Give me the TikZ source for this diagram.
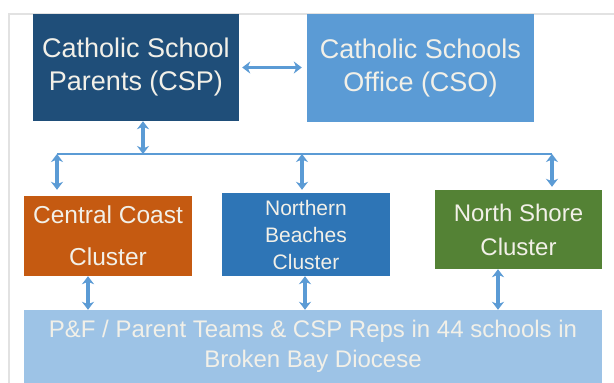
\documentclass[tikz,border=0pt]{standalone}
\usepackage{fontspec}
\setmainfont{Liberation Sans}
\usetikzlibrary{arrows.meta}
\definecolor{cspnavy}{HTML}{1F4E79}
\definecolor{csoblue}{HTML}{5B9BD5}
\definecolor{ccorange}{HTML}{C55A11}
\definecolor{nbblue}{HTML}{2E75B6}
\definecolor{nsgreen}{HTML}{548235}
\definecolor{pflight}{HTML}{9DC3E6}
\definecolor{arrowblue}{HTML}{5B9BD5}
\definecolor{framegray}{HTML}{E2E2E2}
\definecolor{boxtext}{HTML}{F2F0E8}
\begin{document}
\begin{tikzpicture}[x=1pt,y=-1pt,
  box/.style={rectangle, inner sep=0pt, align=center, text=boxtext},
  dbl/.style={draw=arrowblue, line width=3.2pt,
    {Stealth[length=8pt,width=12pt,inset=2.5pt]}-{Stealth[length=8pt,width=12pt,inset=2.5pt]}},
  busline/.style={draw=arrowblue, line width=2.5pt},
]
\useasboundingbox (0,0) rectangle (614,383);
\fill[white] (0,0) rectangle (614,383);
\draw[framegray, line width=1.2pt] (9,383) -- (9,14) -- (614,14);

\node[box, fill=cspnavy, minimum width=206pt, minimum height=107pt,
  font=\fontsize{27}{33}\selectfont] (csp) at (136,67.5) {Catholic School\\Parents (CSP)};
\node[box, fill=csoblue, minimum width=227pt, minimum height=108pt,
  font=\fontsize{27}{33}\selectfont] (cso) at (420.5,68) {Catholic Schools\\Office (CSO)};

\node[box, fill=ccorange, minimum width=168pt, minimum height=80pt,
  font=\fontsize{24.5}{42}\selectfont] (cc) at (108,236) {Central Coast\\Cluster};
\node[box, fill=nbblue, minimum width=168pt, minimum height=83pt,
  font=\fontsize{21}{27}\selectfont] (nb) at (306,234.5) {Northern\\Beaches\\Cluster};
\node[box, fill=nsgreen, minimum width=167pt, minimum height=79pt,
  font=\fontsize{24}{34}\selectfont] (ns) at (518.5,229.5) {North Shore\\Cluster};

\node[box, fill=pflight, minimum width=578pt, minimum height=73pt,
  font=\fontsize{24}{30}\selectfont] (pf) at (313,346.5)
  {P\&F / Parent Teams \& CSP Reps in 44 schools in\\Broken Bay Diocese};

\coordinate (busL) at (57,154);
\coordinate (busM) at (302,154);
\coordinate (busR) at (552,154);

\draw[dbl] ([xshift=3pt]csp.east) -- ([xshift=-5pt]csp.east -| cso.west);
\draw[busline] (busL) -- (busR);
\draw[dbl] ([xshift=7pt]csp.south) -- ([xshift=7pt]csp.south |- busL);

\draw[dbl] (busL) -- ([yshift=6pt]busL |- cc.north);
\draw[dbl] (busM) -- ([yshift=3pt]busM |- nb.north);
\draw[dbl] (busR) -- ([yshift=3pt]busR |- ns.north);

\draw[dbl] ([xshift=-20pt]cc.south) -- ([xshift=-20pt]cc.south |- pf.north);
\draw[dbl] ([xshift=-1pt]nb.south) -- ([xshift=-1pt]nb.south |- pf.north);
\draw[dbl] ([xshift=-20.5pt]ns.south) -- ([xshift=-20.5pt]ns.south |- pf.north);
\end{tikzpicture}
\end{document}
